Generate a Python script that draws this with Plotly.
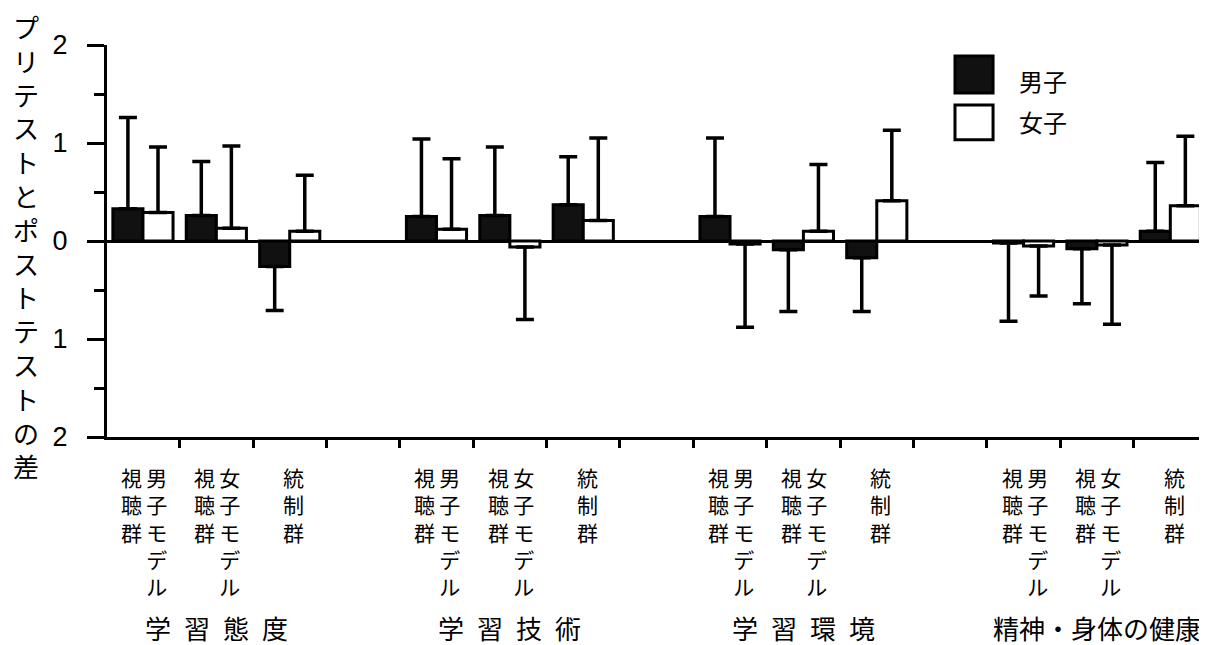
import plotly.graph_objects as go

# ---- data ----
groups = ["学\u2002習\u2002態\u2002度", "学\u2002習\u2002技\u2002術", "学\u2002習\u2002環\u2002境", "精神・身体の健康"]
subgroups_left = ["視聴群", "視聴群", ""]
subgroups_right = ["男子モデル", "女子モデル", "統制群"]
series_names = ["男子", "女子"]

male_mean = [0.33, 0.26, -0.26, 0.25, 0.26, 0.37, 0.25, -0.09, -0.17, -0.02, -0.08, 0.10]
male_sd = [0.93, 0.55, 0.45, 0.79, 0.70, 0.49, 0.80, 0.63, 0.55, 0.80, 0.56, 0.70]
female_mean = [0.29, 0.13, 0.10, 0.12, -0.06, 0.21, -0.03, 0.10, 0.41, -0.05, -0.04, 0.36]
female_sd = [0.67, 0.84, 0.57, 0.72, 0.74, 0.84, 0.85, 0.68, 0.72, 0.51, 0.81, 0.71]

y_tickvals = [-2, -1, 0, 1, 2]
y_ticktext = ["2", "1", "0", "1", "2"]
y_title = "プリテストとポストテストの差"

# ---- layout helpers ----
slots = [4 * g + s for g in range(len(groups)) for s in range(3)]


def err_parts(means, sds):
    up = [sd if m >= 0 else 0 for m, sd in zip(means, sds)]
    down = [0 if m >= 0 else sd for m, sd in zip(means, sds)]
    return up, down


def vertical_pair(left, right):
    """Two vertical columns: right column read first (Japanese vertical style)."""
    n = max(len(left), len(right))
    rows = []
    for i in range(n):
        lc = left[i] if i < len(left) else "\u3000"
        rc = right[i] if i < len(right) else "\u3000"
        rows.append(lc + "\u2009" + rc)
    return "<br>".join(rows)


JP = "Noto Sans CJK JP"

fig = go.Figure()
mu, md = err_parts(male_mean, male_sd)
fu, fd = err_parts(female_mean, female_sd)
fig.add_trace(go.Bar(
    x=slots, y=male_mean, name=series_names[0],
    marker=dict(color="#111111", line=dict(color="black", width=3)),
    error_y=dict(type="data", symmetric=False, array=mu, arrayminus=md,
                 color="black", thickness=3.5, width=9),
    showlegend=False,
))
fig.add_trace(go.Bar(
    x=slots, y=female_mean, name=series_names[1],
    marker=dict(color="white", line=dict(color="black", width=3)),
    error_y=dict(type="data", symmetric=False, array=fu, arrayminus=fd,
                 color="black", thickness=3.5, width=9),
    showlegend=False,
))

annotations = []
# subgroup labels (vertical text)
for g in range(len(groups)):
    for s in range(3):
        xs = 4 * g + s
        left = subgroups_left[s]
        right = subgroups_right[s]
        if left:
            txt = vertical_pair(left, right)
            shift = 1
        else:
            txt = "<br>".join(right)
            shift = 4
        annotations.append(dict(
            x=xs, xref="x", y=-0.0587, yref="paper", xanchor="center", yanchor="top",
            xshift=shift, text=txt, showarrow=False, align="left",
            font=dict(family=JP, size=21, color="black")))
    annotations.append(dict(
        x=4 * g + 1, xref="x", y=-0.485, yref="paper", xanchor="center", yanchor="middle",
        text=groups[g], showarrow=False,
        font=dict(family=JP, size=26, color="black")))

# y title (vertical)
annotations.append(dict(
    x=-81 / 1100, xref="paper", y=0.487, yref="paper", xanchor="center", yanchor="middle",
    text="<br>".join(y_title), showarrow=False,
    font=dict(family=JP, size=26, color="black")))

# legend (manual, large swatches)
shapes = [
    dict(type="rect", xref="paper", yref="paper", x0=0.7709, x1=0.8055, y0=0.8776, y1=0.972,
         fillcolor="#111111", line=dict(color="black", width=3)),
    dict(type="rect", xref="paper", yref="paper", x0=0.7709, x1=0.8055, y0=0.758, y1=0.847,
         fillcolor="white", line=dict(color="black", width=3)),
]
annotations.append(dict(x=0.8273, xref="paper", y=0.9107, yref="paper", xanchor="left",
                        yanchor="middle", text=series_names[0], showarrow=False,
                        font=dict(family=JP, size=24, color="black")))
annotations.append(dict(x=0.8273, xref="paper", y=0.8036, yref="paper", xanchor="left",
                        yanchor="middle", text=series_names[1], showarrow=False,
                        font=dict(family=JP, size=24, color="black")))

# page body has an 8px default margin, so the figure is sized to fit the window
fig.update_layout(
    width=1199, height=637, autosize=False,
    margin=dict(l=99, r=0, t=37, b=208),
    paper_bgcolor="white", plot_bgcolor="white",
    barmode="group", bargap=0.18, bargroupgap=0,
    annotations=annotations, shapes=shapes,
    xaxis=dict(range=[-0.49, 14.5], showline=True, linewidth=3, linecolor="black",
               tickvals=[k + 0.5 for k in range(14)], ticks="outside", ticklen=8,
               tickwidth=3, tickcolor="black", showticklabels=False,
               showgrid=False, zeroline=False),
    yaxis=dict(range=[-2, 2], showline=True, linewidth=3, linecolor="black",
               tickvals=y_tickvals, ticktext=y_ticktext, ticks="outside", ticklen=17,
               tickwidth=3, tickcolor="black", ticklabelstandoff=14,
               tickfont=dict(family="Liberation Sans Narrow, Liberation Sans", size=27,
                             color="black"),
               minor=dict(tickvals=[-1.5, -0.5, 0.5, 1.5], ticks="outside", ticklen=10,
                          tickwidth=3, tickcolor="black", showgrid=False),
               showgrid=False, zeroline=True, zerolinewidth=3, zerolinecolor="black"),
)

fig.write_html("out.html")
